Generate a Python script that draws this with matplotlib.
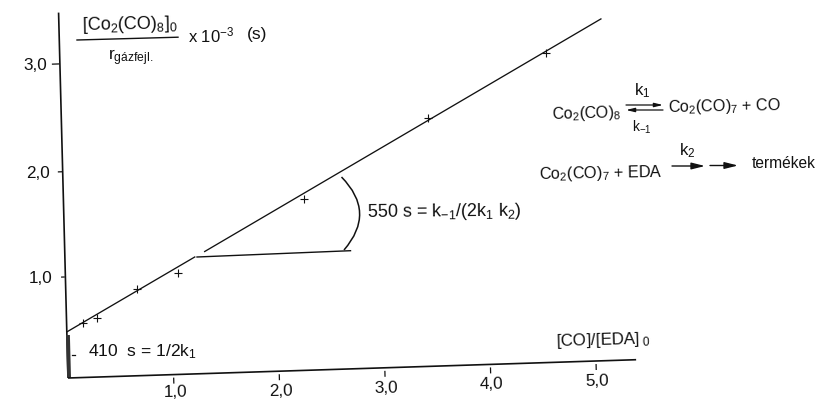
import matplotlib
matplotlib.use("Agg")
import matplotlib.pyplot as plt
from matplotlib.path import Path
from matplotlib.patches import PathPatch
from matplotlib.transforms import Affine2D

plt.rcParams['font.family'] = ['Liberation Sans', 'DejaVu Sans']
plt.rcParams['mathtext.fontset'] = 'custom'
plt.rcParams['mathtext.rm'] = 'Liberation Sans'
plt.rcParams['mathtext.it'] = 'Liberation Sans'
plt.rcParams['mathtext.default'] = 'rm'

# Data
co_ratio = [0.155, 0.288, 0.673, 1.064, 2.272, 3.473, 4.603]
time_val = [0.52, 0.564, 0.828, 0.968, 1.636, 2.37, 2.955]
fit_x_low = [0.0, 1.229]
fit_y_low = [0.44, 1.116]
fit_x_high = [1.324, 5.13]
fit_y_high = [1.165, 3.263]
x_ticks = [1.0, 2.0, 3.0, 4.0, 5.0]
x_labels = ['1,0', '2,0', '3,0', '4,0', '5,0']
y_ticks = [0.965, 1.97, 3.0]
y_labels = ['1,0', '2,0', '3,0']
x_max = 5.38
y_max = 3.49

INK = '#111111'
fig = plt.figure(figsize=(8.16, 4.0), dpi=100)
ax = fig.add_axes([0, 0, 1, 1])
ax.axis('off')
ax.set_xlim(0, 816)
ax.set_ylim(400, 0)

# The scanned axes are slightly sheared: data -> image pixels
skew = Affine2D.from_values(105.6, -3.4, -2.7, -104.7, 68, 378) + ax.transData

ax.plot([0, 0], [0, y_max], color=INK, lw=1.2, transform=skew, solid_capstyle='butt')
ax.plot([0.01, 0.01], [0, 0.41], color='#333333', lw=2.8, transform=skew, solid_capstyle='butt')
ax.plot([0, x_max], [0, 0], color=INK, lw=1.2, transform=skew, solid_capstyle='butt')
ax.plot(fit_x_low, fit_y_low, color=INK, lw=0.95, transform=skew)
ax.plot(fit_x_high, fit_y_high, color=INK, lw=0.95, transform=skew)
ax.plot(co_ratio, time_val, ls='none', marker='+', ms=5.5, mew=0.8, color=INK, transform=skew)

for t in x_ticks:
    ax.plot([t, t], [-0.035, -0.08], color=INK, lw=0.9, transform=skew)
for t, dx in zip(y_ticks, [0.035, 0.04, 0.07]):
    ax.plot([-0.012, -dx], [t, t], color=INK, lw=0.9, transform=skew)

# x and y tick labels follow the sheared axes
for t, lab, dy in zip(x_ticks, x_labels, [-1, 1.5, 2, 2, 2]):
    px, py = ax.transData.inverted().transform(skew.transform((t, -0.175)))
    ax.text(px + 1, py + dy, lab, ha='center', va='center', fontsize=12.3, color=INK, rotation=1)
for t, lab in zip(y_ticks, y_labels):
    px, py = ax.transData.inverted().transform(skew.transform((-0.14, t)))
    ax.text(px + 2, py + 1, lab, ha='right', va='center', fontsize=12.3, color=INK)
ax.plot([72, 75], [355, 355], color=INK, lw=0.9)

# Slope construction
ax.plot([197, 350.5], [257, 250.7], color=INK, lw=1.0)
arc = Path([(341.5, 177), (376.5, 212.5), (344, 250)], [Path.MOVETO, Path.CURVE3, Path.CURVE3])
ax.add_patch(PathPatch(arc, fill=False, ec=INK, lw=1.1))

# Axis title
ax.text(129.5, 25, r'$[Co_2(CO)_8]_0$', ha='center', va='center', fontsize=13, color=INK, rotation=1)
ax.plot([77, 178], [40, 37.2], color=INK, lw=1.0)
ax.text(131, 58, r'$r_{gázfejl.}$', ha='center', va='center', fontsize=12.5, color=INK)
ax.text(188, 35, r'x 10$^{-3}$', ha='left', va='center', fontsize=12, color=INK)
ax.text(247, 35, '(s)', ha='left', va='center', fontsize=12.5, color=INK)

# Annotations
ax.text(88, 352, r'410  s = 1/2k$_1$', ha='left', va='center', fontsize=12.6, color=INK)
ax.text(367, 212, r'550 s = k$_{-1}$/(2k$_1$ k$_2$)', ha='left', va='center', fontsize=13, color=INK, rotation=0.5)
ax.text(556, 340, r'[CO]/[EDA]$_{\ 0}$', ha='left', va='center', fontsize=12.2, color=INK, rotation=1.5)

# Reaction scheme
ax.text(552, 114, r'Co$_2$(CO)$_8$', ha='left', va='center', fontsize=11.4, color=INK, rotation=1.5)
ax.text(668, 107, r'Co$_2$(CO)$_7$ + CO', ha='left', va='center', fontsize=11.6, color=INK, rotation=1)
ax.text(642, 91, r'k$_1$', ha='center', va='center', fontsize=12, color=INK)
ax.text(642, 127, r'k$_{-1}$', ha='center', va='center', fontsize=10, color=INK)
ax.annotate('', xy=(663, 105), xytext=(626, 105),
            arrowprops=dict(arrowstyle='-|>,head_length=0.5,head_width=0.12', lw=0.9, color=INK, shrinkA=0, shrinkB=0))
ax.annotate('', xy=(626, 110), xytext=(663, 110),
            arrowprops=dict(arrowstyle='-|>,head_length=0.5,head_width=0.12', lw=0.9, color=INK, shrinkA=0, shrinkB=0))
ax.text(539, 173, r'Co$_2$(CO)$_7$ + EDA', ha='left', va='center', fontsize=11.7, color=INK, rotation=1)
ax.text(687, 151, r'k$_2$', ha='center', va='center', fontsize=12, color=INK)
ax.annotate('', xy=(705, 166), xytext=(672, 166),
            arrowprops=dict(arrowstyle='-|>,head_length=0.8,head_width=0.2', lw=1.0, color=INK, shrinkA=0, shrinkB=0))
ax.annotate('', xy=(738, 165.5), xytext=(710, 165.5),
            arrowprops=dict(arrowstyle='-|>,head_length=0.8,head_width=0.2', lw=1.0, color=INK, shrinkA=0, shrinkB=0))
ax.text(752, 163, 'termékek', ha='left', va='center', fontsize=11.2, color=INK)

fig.savefig('out.png', dpi=100)
